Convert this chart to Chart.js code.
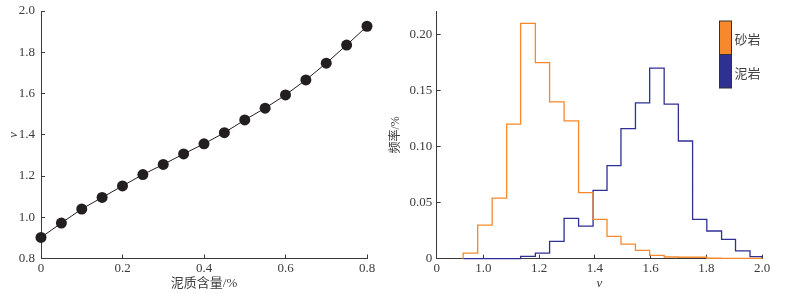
<!DOCTYPE html>
<html>
<head>
<meta charset="utf-8">
<script src="https://cdn.jsdelivr.net/npm/chart.js@4.4.0/dist/chart.umd.min.js"></script>
<style>
  html, body { margin: 0; padding: 0; background: #fff; }
  #wrap { position: relative; width: 785px; height: 293px; overflow: hidden; }
  #left { position: absolute; left: 0; top: 0; }
  #right { position: absolute; left: 385px; top: 0; }
</style>
</head>
<body>
<div id="wrap">
  <canvas id="left" width="385" height="293"></canvas>
  <canvas id="right" width="400" height="293"></canvas>
</div>
<script>
// 左图：泥质含量 vs v
const mudContent = [0, 0.05, 0.1, 0.15, 0.2, 0.25, 0.3, 0.35, 0.4, 0.45, 0.5, 0.55, 0.6, 0.65, 0.7, 0.75, 0.8];
const velRatio = [0.902, 0.972, 1.040, 1.096, 1.152, 1.207, 1.256, 1.307, 1.356, 1.410, 1.472, 1.529, 1.593, 1.666, 1.747, 1.835, 1.926];
const leftXTicks = [0, 0.2, 0.4, 0.6, 0.8];
const leftXLabels = ['0', '0.2', '0.4', '0.6', '0.8'];
const leftYTicks = [0.8, 1.0, 1.2, 1.4, 1.6, 1.8, 2.0];
const leftYLabels = ['0.8', '1.0', '1.2', '1.4', '1.6', '1.8', '2.0'];

// 右图：频率直方图
const binEdges = [0.928, 0.980, 1.032, 1.084, 1.134, 1.187, 1.238, 1.290, 1.342, 1.394, 1.444,
  1.494, 1.546, 1.597, 1.649, 1.700, 1.751, 1.802, 1.855, 1.905, 1.957, 2.0];
const sandFreq = [0.005, 0.030, 0.054, 0.120, 0.210, 0.175, 0.140, 0.123, 0.059, 0.035, 0.020,
  0.013, 0.0075, 0.003, 0.0015, 0.0013, 0.0013, 0.0004, 0.0003, 0.0003, 0.0003];
const shaleFreq = [0, 0, 0, 0, 0.002, 0.005, 0.0155, 0.036, 0.029, 0.061, 0.083,
  0.116, 0.139, 0.170, 0.138, 0.105, 0.035, 0.0247, 0.0173, 0.0069, 0.0018];
const rightXTicks = [0.833, 1.0, 1.2, 1.4, 1.6, 1.8, 2.0];
const rightXLabels = ['0', '1.0', '1.2', '1.4', '1.6', '1.8', '2.0'];
const rightYTicks = [0, 0.05, 0.10, 0.15, 0.20];
const rightYLabels = ['0', '0.05', '0.10', '0.15', '0.20'];
const seriesNames = ['砂岩', '泥岩'];
const seriesColors = ['#f5892c', '#2e3192'];

const serif = "'Liberation Serif', 'Noto Sans CJK SC', serif";
const axisColor = '#3a3a3a';
const tickFont = { family: serif, size: 13 };

function fixedTicks(values) {
  return function (scale) {
    scale.ticks = values.map(v => ({ value: v }));
  };
}

function labelFrom(values, labels) {
  return function (value) {
    const i = values.findIndex(v => Math.abs(v - value) < 1e-6);
    return i >= 0 ? labels[i] : '';
  };
}

function histPoints(freq) {
  const pts = [{ x: binEdges[0], y: 0 }];
  freq.forEach((f, i) => pts.push({ x: binEdges[i], y: f }));
  pts.push({ x: binEdges[binEdges.length - 1], y: freq[freq.length - 1] });
  pts.push({ x: binEdges[binEdges.length - 1], y: 0 });
  return pts;
}

function axisX(min, max, ticks, labels, title, fitHeight) {
  return {
    type: 'linear', min: min, max: max,
    afterBuildTicks: fixedTicks(ticks),
    afterFit: s => { s.height = fitHeight; s.paddingLeft = 0; s.paddingRight = 0; },
    grid: { drawOnChartArea: false, tickLength: -4, color: axisColor },
    border: { color: axisColor, width: 1 },
    ticks: { font: tickFont, color: axisColor, padding: 6, maxRotation: 0, autoSkip: false,
      callback: labelFrom(ticks, labels) },
    title: title
  };
}

function axisY(min, max, ticks, labels, title, fitWidth, pad) {
  return {
    type: 'linear', min: min, max: max,
    afterBuildTicks: fixedTicks(ticks),
    afterFit: s => { s.width = fitWidth; s.paddingTop = 0; s.paddingBottom = 0; },
    grid: { drawOnChartArea: false, tickLength: -4, color: axisColor },
    border: { color: axisColor, width: 1 },
    ticks: { font: tickFont, color: axisColor, padding: pad, autoSkip: false,
      callback: labelFrom(ticks, labels) },
    title: title
  };
}

new Chart(document.getElementById('left'), {
  type: 'scatter',
  data: {
    datasets: [{
      data: mudContent.map((x, i) => ({ x: x, y: velRatio[i] })),
      showLine: true,
      borderColor: '#231f20',
      borderWidth: 1,
      pointRadius: 5.5,
      pointBackgroundColor: '#231f20',
      pointBorderWidth: 0,
      clip: false
    }]
  },
  options: {
    responsive: false,
    animation: false,
    layout: { padding: { top: 11, right: 18, left: 0, bottom: 0 } },
    plugins: { legend: { display: false }, tooltip: { enabled: false } },
    scales: {
      x: axisX(0, 0.8, leftXTicks, leftXLabels,
        { display: true, text: '泥质含量/%', font: { family: serif, size: 13 }, color: axisColor, padding: { top: 0, bottom: 2 } }, 34.5),
      y: axisY(0.8, 2.0, leftYTicks, leftYLabels,
        { display: true, text: 'v', font: { family: serif, size: 13, style: 'italic' }, color: axisColor, padding: { top: 6, bottom: 0 } }, 41, 10)
    }
  }
});

// 竖排色块图例
const blockLegend = {
  id: 'blockLegend',
  afterDraw(chart) {
    const ctx = chart.ctx;
    const x = 334.5, w = 12, top = 21, h = 33.5;
    ctx.save();
    seriesNames.forEach((name, i) => {
      ctx.fillStyle = seriesColors[i];
      ctx.fillRect(x, top + i * h, w, h);
      ctx.fillStyle = '#444';
      ctx.font = '13px ' + serif;
      ctx.textBaseline = 'middle';
      ctx.textAlign = 'left';
      ctx.fillText(name, x + w + 3, top + i * h + h / 2 + 3);
    });
    ctx.strokeStyle = '#333';
    ctx.lineWidth = 1;
    ctx.strokeRect(x, top, w, h * 2);
    ctx.beginPath();
    ctx.moveTo(x, top + h);
    ctx.lineTo(x + w, top + h);
    ctx.stroke();
    ctx.restore();
  }
};

new Chart(document.getElementById('right'), {
  type: 'scatter',
  data: {
    datasets: [
      { label: seriesNames[0], data: histPoints(sandFreq), showLine: true, stepped: true,
        borderColor: seriesColors[0], borderWidth: 1.3, pointRadius: 0, clip: false },
      { label: seriesNames[1], data: histPoints(shaleFreq), showLine: true, stepped: true,
        borderColor: seriesColors[1], borderWidth: 1.3, pointRadius: 0, clip: false }
    ]
  },
  options: {
    responsive: false,
    animation: false,
    layout: { padding: { top: 11, right: 23, left: 0, bottom: 0 } },
    plugins: { legend: { display: false }, tooltip: { enabled: false } },
    scales: {
      x: axisX(0.833, 2.0, rightXTicks, rightXLabels,
        { display: true, text: 'v', font: { family: serif, size: 13, style: 'italic' }, color: axisColor, padding: { top: 0, bottom: 2 } }, 34.3),
      y: axisY(0, 0.221, rightYTicks, rightYLabels,
        { display: true, text: '频率/%', font: { family: serif, size: 12 }, color: axisColor, padding: { top: 4, bottom: 0 } }, 51.7, 8.5)
    }
  },
  plugins: [blockLegend]
});
</script>
</body>
</html>
